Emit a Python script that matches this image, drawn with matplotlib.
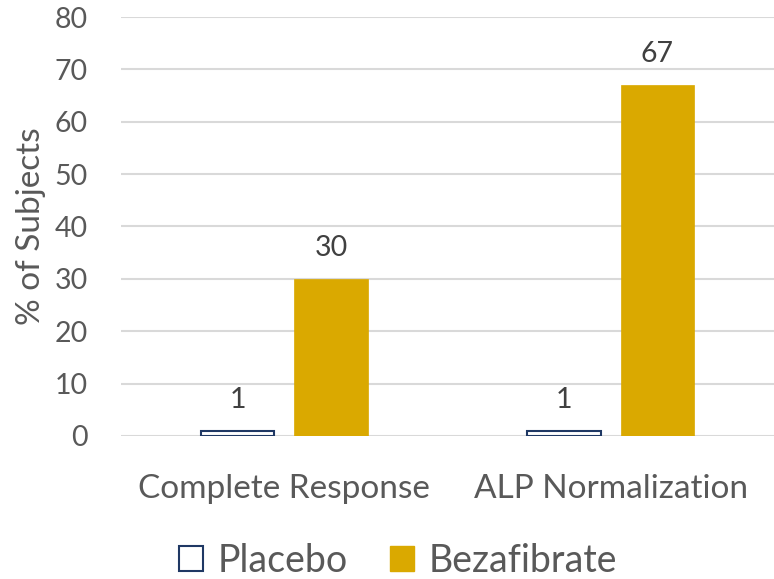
import matplotlib
matplotlib.use("Agg")
import matplotlib.pyplot as plt
import numpy as np
from matplotlib.patches import Patch

categories = ["Complete Response", "ALP Normalization"]
placebo = [1, 1]
bezafibrate = [30, 67]
series_names = ["Placebo", "Bezafibrate"]
y_ticks = [0, 10, 20, 30, 40, 50, 60, 70, 80]

plt.rcParams['font.family'] = ['Lato', 'DejaVu Sans']
text_color = "#595959"
gold = "#DAA900"
navy = "#1F3864"

fig = plt.figure(figsize=(7.74, 5.79), dpi=100)
ax = fig.add_axes([121/774, (579-436)/579, (774-121)/774, (436-17)/579])

x = np.arange(len(categories))
w = 0.225
off = 0.143
b1 = ax.bar(x - off, placebo, w, color="white", edgecolor=navy, linewidth=1.5, zorder=3)
b2 = ax.bar(x + off, bezafibrate, w, color=gold, edgecolor=gold, linewidth=0.5, zorder=3)

for bars, vals in ((b1, placebo), (b2, bezafibrate)):
    for r, v in zip(bars, vals):
        ax.annotate(f"{v}", (r.get_x() + r.get_width() / 2, v), xytext=(0, 13),
                    textcoords="offset points", ha="center", va="bottom",
                    fontsize=20.5, color="#404040")

ax.set_xlim(-0.5, 1.5)
ax.set_ylim(0, 80)
ax.set_yticks(y_ticks)
ax.yaxis.grid(True, color="#D9D9D9", linewidth=1.5, zorder=0)
ax.set_axisbelow(True)
for s in ax.spines.values():
    s.set_visible(False)
ax.tick_params(axis="both", length=0, colors=text_color)
ax.tick_params(axis="y", labelsize=20.5, pad=24)
ax.set_xticks(x)
ax.set_xticklabels(categories, fontsize=24)
ax.tick_params(axis="x", pad=27)
ax.set_ylabel("% of Subjects", fontsize=24, color=text_color, labelpad=6)

handles = [Patch(facecolor="white", edgecolor=navy, linewidth=1.5),
           Patch(facecolor=gold, edgecolor=gold)]
fig.legend(handles, series_names, loc="center", bbox_to_anchor=(398/774, 1 - 561/579),
           ncol=2, frameon=False, fontsize=27, labelcolor=text_color,
           handlelength=0.65, handleheight=0.65, handletextpad=0.4, columnspacing=1.1)

fig.savefig("out.png", dpi=100)
